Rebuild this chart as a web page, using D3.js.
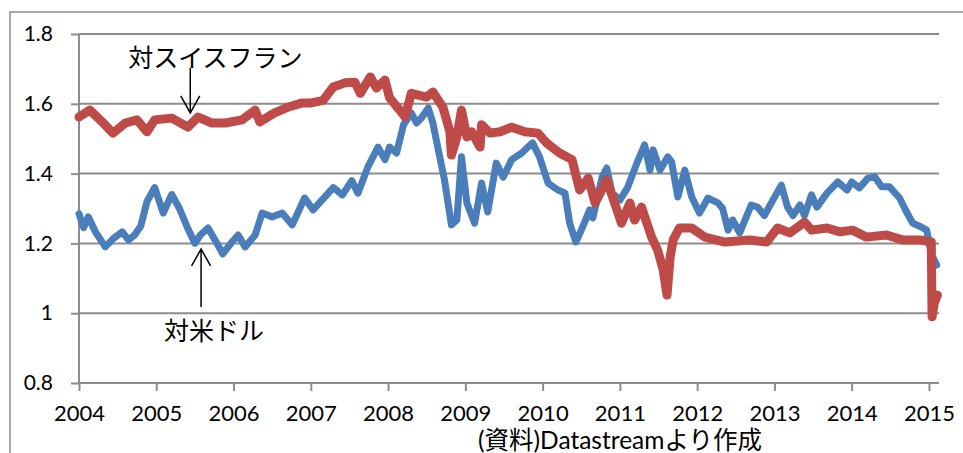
<!DOCTYPE html>
<html>
<head>
<meta charset="utf-8">
<script src="https://cdn.jsdelivr.net/npm/d3@7"></script>
<style>
  body { margin: 0; background: #fff; }
  .tick text { font-family: Lato, "Noto Sans CJK JP", sans-serif; fill: #000; }
  .note { font-family: "Noto Sans CJK JP", sans-serif; font-size: 25px; fill: #000; }
  .source { font-family: Lato, "Noto Sans CJK JP", sans-serif; font-size: 24.5px; fill: #000; }
</style>
</head>
<body>
<svg width="963" height="453"></svg>
<script>
// euro vs US dollar (t = decimal year)
var usd = [
  [2004.00, 1.285], [2004.06, 1.245], [2004.12, 1.276], [2004.22, 1.23], [2004.34, 1.19],
  [2004.45, 1.215], [2004.56, 1.233], [2004.64, 1.21], [2004.72, 1.224], [2004.80, 1.25],
  [2004.88, 1.32], [2004.98, 1.36], [2005.09, 1.287], [2005.20, 1.34], [2005.30, 1.30],
  [2005.40, 1.247], [2005.50, 1.20], [2005.57, 1.224], [2005.67, 1.244], [2005.76, 1.21],
  [2005.86, 1.17], [2005.98, 1.204], [2006.06, 1.224], [2006.15, 1.19], [2006.28, 1.224],
  [2006.37, 1.287], [2006.50, 1.276], [2006.63, 1.287], [2006.76, 1.253], [2006.92, 1.33],
  [2007.03, 1.296], [2007.29, 1.36], [2007.41, 1.339], [2007.53, 1.38], [2007.61, 1.344],
  [2007.74, 1.42], [2007.87, 1.476], [2007.96, 1.44], [2008.02, 1.476], [2008.11, 1.459],
  [2008.20, 1.54], [2008.30, 1.574], [2008.37, 1.545], [2008.44, 1.562], [2008.52, 1.588],
  [2008.58, 1.545], [2008.65, 1.468], [2008.73, 1.382], [2008.82, 1.253], [2008.89, 1.267],
  [2008.95, 1.448], [2009.02, 1.316], [2009.12, 1.258], [2009.21, 1.373], [2009.29, 1.29],
  [2009.40, 1.43], [2009.49, 1.39], [2009.60, 1.44], [2009.73, 1.459], [2009.81, 1.476],
  [2009.87, 1.488], [2009.96, 1.448], [2010.07, 1.373], [2010.20, 1.353], [2010.29, 1.344],
  [2010.35, 1.258], [2010.43, 1.204], [2010.50, 1.238], [2010.61, 1.296], [2010.65, 1.273],
  [2010.77, 1.39], [2010.83, 1.416], [2010.90, 1.344], [2011.00, 1.324], [2011.10, 1.36],
  [2011.22, 1.43], [2011.32, 1.482], [2011.39, 1.41], [2011.43, 1.468], [2011.52, 1.41],
  [2011.62, 1.448], [2011.67, 1.433], [2011.75, 1.333], [2011.84, 1.41], [2011.93, 1.333],
  [2012.03, 1.287], [2012.14, 1.33], [2012.27, 1.316], [2012.33, 1.30], [2012.40, 1.238],
  [2012.46, 1.267], [2012.55, 1.23], [2012.70, 1.31], [2012.78, 1.304], [2012.87, 1.28],
  [2012.98, 1.324], [2013.09, 1.367], [2013.17, 1.304], [2013.24, 1.28], [2013.33, 1.31],
  [2013.39, 1.28], [2013.48, 1.339], [2013.55, 1.304], [2013.68, 1.344], [2013.82, 1.376],
  [2013.94, 1.353], [2014.00, 1.376], [2014.10, 1.359], [2014.21, 1.387], [2014.30, 1.39],
  [2014.39, 1.362], [2014.49, 1.362], [2014.62, 1.33], [2014.71, 1.29], [2014.79, 1.258],
  [2014.90, 1.247], [2014.97, 1.238], [2015.03, 1.17], [2015.10, 1.138]
];

// euro vs Swiss franc
var chf = [
  [2004.00, 1.562], [2004.14, 1.582], [2004.30, 1.548], [2004.44, 1.516], [2004.60, 1.545],
  [2004.75, 1.554], [2004.88, 1.52], [2004.98, 1.554], [2005.20, 1.559], [2005.41, 1.533],
  [2005.54, 1.562], [2005.72, 1.545], [2005.89, 1.545], [2006.11, 1.554], [2006.28, 1.582],
  [2006.34, 1.548], [2006.53, 1.574], [2006.70, 1.59], [2006.88, 1.602], [2006.99, 1.602],
  [2007.16, 1.61], [2007.29, 1.648], [2007.44, 1.66], [2007.57, 1.662], [2007.64, 1.63],
  [2007.77, 1.677], [2007.85, 1.645], [2007.96, 1.668], [2008.02, 1.617], [2008.15, 1.582],
  [2008.22, 1.562], [2008.30, 1.63], [2008.39, 1.625], [2008.50, 1.619], [2008.58, 1.634],
  [2008.71, 1.59], [2008.80, 1.52], [2008.82, 1.453], [2008.89, 1.505], [2008.95, 1.582],
  [2009.02, 1.505], [2009.08, 1.52], [2009.19, 1.476], [2009.21, 1.54], [2009.32, 1.516],
  [2009.45, 1.52], [2009.60, 1.533], [2009.77, 1.52], [2009.94, 1.516], [2010.05, 1.488],
  [2010.22, 1.459], [2010.38, 1.44], [2010.48, 1.353], [2010.59, 1.387], [2010.68, 1.316],
  [2010.83, 1.382], [2011.02, 1.258], [2011.13, 1.316], [2011.19, 1.267], [2011.28, 1.304],
  [2011.41, 1.218], [2011.49, 1.18], [2011.56, 1.124], [2011.61, 1.052], [2011.65, 1.16],
  [2011.69, 1.21], [2011.77, 1.244], [2011.93, 1.244], [2012.10, 1.218], [2012.36, 1.204],
  [2012.68, 1.21], [2012.90, 1.204], [2013.04, 1.244], [2013.20, 1.23], [2013.39, 1.261],
  [2013.48, 1.238], [2013.68, 1.244], [2013.85, 1.233], [2014.01, 1.238], [2014.19, 1.218],
  [2014.45, 1.224], [2014.66, 1.21], [2014.88, 1.21], [2015.03, 1.204], [2015.04, 0.99],
  [2015.07, 1.03], [2015.11, 1.052]
];

var years = [2004, 2005, 2006, 2007, 2008, 2009, 2010, 2011, 2012, 2013, 2014, 2015];
var yTicks = [0.8, 1, 1.2, 1.4, 1.6, 1.8];

// arrows: [t, value at tip, direction, label]
var notes = [
  {t: 2005.44, v: 1.574, dir: "down", label: "対スイスフラン"},
  {t: 2005.58, v: 1.184, dir: "up", label: "対米ドル"}
];

var svg = d3.select("svg"),
    margin = {top: 34, right: 24, bottom: 70, left: 79},
    width = +svg.attr("width") - margin.left - margin.right,
    height = +svg.attr("height") - margin.top - margin.bottom,
    g = svg.append("g").attr("transform", "translate(" + margin.left + "," + margin.top + ")");

var x = d3.scaleLinear()
    .domain([2004, 2015.13])
    .range([0, width]);

var y = d3.scaleLinear()
    .domain([0.8, 1.8])
    .range([height, 0]);

// outer frame (only top and left edges show)
svg.append("path")
    .attr("d", "M10,453V12H963")
    .attr("fill", "none")
    .attr("stroke", "#8c8c8c")
    .attr("stroke-width", 1.5);

// gridlines
g.append("g")
    .selectAll("line")
    .data(yTicks.slice(1))
    .enter().append("line")
      .attr("x1", 0)
      .attr("x2", width)
      .attr("y1", function (d) { return y(d); })
      .attr("y2", function (d) { return y(d); })
      .attr("stroke", "#8c8c8c")
      .attr("stroke-width", 2);

var yAxis = g.append("g")
    .call(d3.axisLeft(y).tickValues(yTicks).tickSize(8).tickPadding(18)
      .tickFormat(function (d) { return d === 1 ? "1" : d3.format(".1f")(d); }));
yAxis.selectAll("text").style("font-size", "21px");

var xAxis = g.append("g")
    .attr("transform", "translate(0," + height + ")")
    .call(d3.axisBottom(x).tickValues(years).tickSize(8).tickPadding(14).tickFormat(d3.format("d")));
xAxis.selectAll("text").style("font-size", "22px");

g.selectAll(".domain, .tick line")
    .attr("stroke", "#8c8c8c")
    .attr("stroke-width", 2);
yAxis.select(".domain").attr("d", "M0," + height + "V0");
xAxis.select(".domain").attr("d", "M0,0H" + width);

var line = d3.line()
    .x(function (d) { return x(d[0]); })
    .y(function (d) { return y(d[1]); });

g.append("path")
    .datum(usd)
    .attr("d", line)
    .attr("fill", "none")
    .attr("stroke", "#4a7ebb")
    .attr("stroke-width", 7)
    .attr("stroke-linejoin", "round")
    .attr("stroke-linecap", "round");

g.append("path")
    .datum(chf)
    .attr("d", line)
    .attr("fill", "none")
    .attr("stroke", "#be4b48")
    .attr("stroke-width", 9)
    .attr("stroke-linejoin", "round")
    .attr("stroke-linecap", "round");

// annotations
notes.forEach(function (n) {
  var px = x(n.t), py = y(n.v);
  var s = n.dir === "down" ? -1 : 1; // direction the shaft runs away from the tip
  var len = n.dir === "down" ? 45 : 58;
  g.append("path")
      .attr("d", "M" + px + "," + py + "V" + (py + s * len) +
                 "M" + (px - 9.5) + "," + (py + s * 17) + "L" + px + "," + py + "L" + (px + 9.5) + "," + (py + s * 17))
      .attr("fill", "none")
      .attr("stroke", "#000")
      .attr("stroke-width", 1.5);
  g.append("text")
      .attr("class", "note")
      .attr("x", n.dir === "down" ? px - 62 : px - 37)
      .attr("y", n.dir === "down" ? py - 57 : py + 80)
      .attr("dominant-baseline", "central")
      .text(n.label);
});

svg.append("text")
    .attr("class", "source")
    .attr("x", 478)
    .attr("y", 449)
    .text("(資料)Datastreamより作成");
</script>
</body>
</html>
